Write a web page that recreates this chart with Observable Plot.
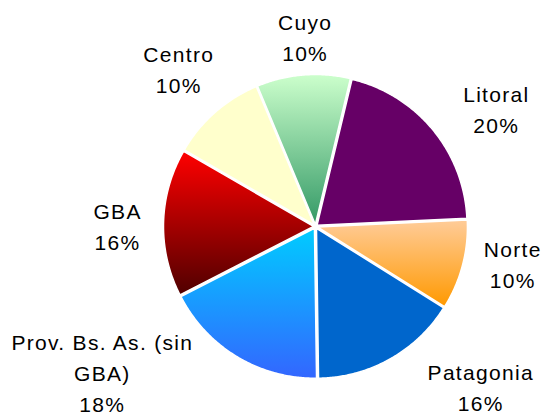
<!DOCTYPE html>
<html>
<head>
<meta charset="utf-8">
<script src="https://cdn.jsdelivr.net/npm/d3@7"></script>
<script src="https://cdn.jsdelivr.net/npm/@observablehq/plot@0.6"></script>
<style>
  html, body { margin: 0; padding: 0; background: #fff; }
  #chart { width: 545px; height: 416px; overflow: hidden; }
</style>
</head>
<body>
<div id="chart"></div>
<script>
// ---- data ----
const regions = ["Litoral", "Norte", "Patagonia", "Prov. Bs. As. (sin GBA)", "GBA", "Centro", "Cuyo"];
const shares = [20.4, 9.6, 15.8, 17.6, 15.8, 10.3, 10.0];
const pctLabels = ["20%", "10%", "16%", "18%", "16%", "10%", "10%"];

// ---- styles / layout ----
const gradTop =    ["#660066", "#FFCC99", "#0066CC", "#00CCFF", "#FF0000", "#FFFFCC", "#CCFFCC"];
const gradBottom = ["#660066", "#FF9900", "#0066CC", "#3366FF", "#500000", "#FFFFCC", "#339966"];
const labelNudge = [[24, 0.5], [11, -12], [60, -4.5], [-77, -29.5], [-16.5, 2.5], [-6, -17.5], [4.6, -4]];
const startDeg = 13.5;
const explode = 2 / 150;
const fontSize = 21, linePx = 31, charPx = 11;

const rad = d => d * Math.PI / 180;
const total = d3.sum(shares);
let acc = startDeg;
const slices = regions.map((name, i) => {
  const a0 = acc, a1 = acc + shares[i] / total * 360;
  acc = a1;
  return {name, i, a0, a1, mid: (a0 + a1) / 2};
});

function slicePoints(s) {
  const ox = explode * Math.sin(rad(s.mid)), oy = explode * Math.cos(rad(s.mid));
  const pts = [{x: ox, y: oy}];
  const n = Math.ceil((s.a1 - s.a0) / 0.5);
  for (let k = 0; k <= n; k++) {
    const a = rad(s.a0 + (s.a1 - s.a0) * k / n);
    pts.push({x: ox + Math.sin(a), y: oy + Math.cos(a)});
  }
  return pts;
}

function wrap(name) {
  if (name.length <= 15) return name;
  const k = name.lastIndexOf(" ");
  return name.slice(0, k) + "\n" + name.slice(k + 1);
}

const sliceMarks = slices.map(s => Plot.line(slicePoints(s), {
  x: "x", y: "y", curve: "linear-closed",
  fill: `url(#grad${s.i})`, stroke: "white", strokeWidth: 1.5
}));

const R = 1.1;
const labelMarks = slices.map(s => {
  const sn = Math.sin(rad(s.mid)), cs = Math.cos(rad(s.mid));
  const text = wrap(s.name) + "\n" + pctLabels[s.i];
  const lines = text.split("\n");
  const h = 15 + (lines.length - 1) * linePx;
  const w = d3.max(lines, l => l.length) * charPx;
  return Plot.text([{x: R * sn, y: R * cs, t: text}], {
    x: "x", y: "y", text: "t",
    textAnchor: "middle", lineAnchor: "middle",
    lineHeight: linePx / fontSize,
    dx: sn * w / 2 + labelNudge[s.i][0],
    dy: -cs * h / 2 + labelNudge[s.i][1],
    fill: "#000", fontSize
  });
});

const svg = Plot.plot({
  width: 545, height: 416,
  marginLeft: 165, marginRight: 80, marginTop: 76, marginBottom: 40,
  x: {domain: [-1, 1], axis: null},
  y: {domain: [-1, 1], axis: null},
  style: {fontFamily: "'Liberation Sans', Arial, Helvetica, sans-serif", letterSpacing: "1.3px", background: "#fff", overflow: "visible"},
  marks: [...sliceMarks, ...labelMarks]
});

const defs = d3.select(svg).insert("defs", ":first-child");
slices.forEach(s => {
  const g = defs.append("linearGradient").attr("id", `grad${s.i}`)
    .attr("x1", 0).attr("y1", 0).attr("x2", 0).attr("y2", 1);
  g.append("stop").attr("offset", "0%").attr("stop-color", gradTop[s.i]);
  g.append("stop").attr("offset", "100%").attr("stop-color", gradBottom[s.i]);
});

document.getElementById("chart").appendChild(svg);
</script>
</body>
</html>
